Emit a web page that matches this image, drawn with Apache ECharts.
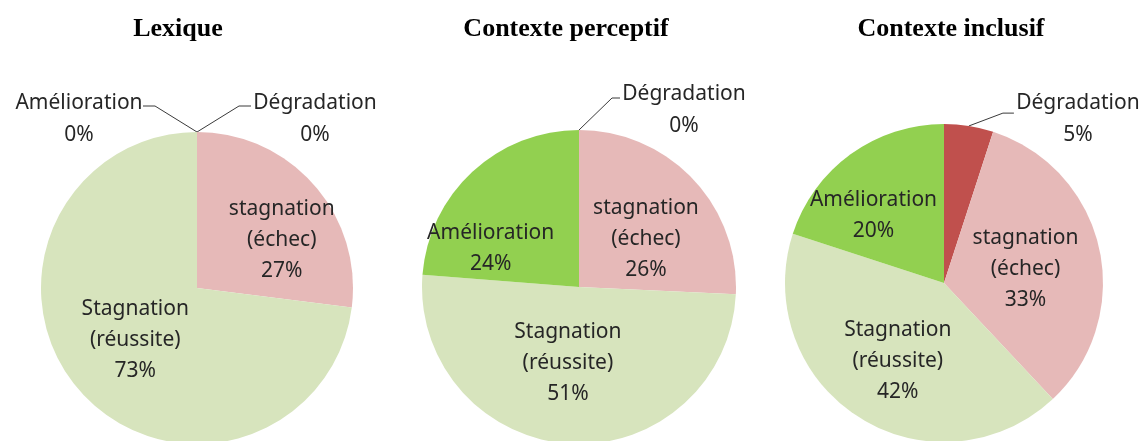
<!DOCTYPE html>
<html><head><meta charset="utf-8">
<script src="https://cdn.jsdelivr.net/npm/echarts@6/dist/echarts.min.js"></script>
<style>html,body{margin:0;padding:0;background:#fff}#c{width:1148px;height:441px}</style>
</head><body><div id="c"></div>
<script>
// ---- data ----
const titles = ['Lexique', 'Contexte perceptif', 'Contexte inclusif'];
const categories = ['Dégradation', 'stagnation\n(échec)', 'Stagnation\n(réussite)', 'Amélioration'];
const lexique = [0, 27, 73, 0];
const perceptif = [0, 26, 51, 24];
const inclusif = [5, 33, 42, 20];

// ---- styles / layout ----
const colors = ['#C0504D', '#E6B9B8', '#D7E4BD', '#92D050'];
const FONT = '"Noto Sans", "Open Sans", sans-serif';
// which side each small (outside) label belongs to: +1 right, -1 left
const outsideSide = [1, 0, 0, -1];
const pieLayout = [
  { center: [197, 288], r: 156, len: 26, len2: 54, kink: 12, padTop: 26, titleX: 178,
    nudge: [[0, 0], [24, 6], [-1, -2], [0, 0]] },
  { center: [579, 287], r: 157, len: 32, len2: 41, kink: 8, padTop: 24, titleX: 566,
    nudge: [[0, 0], [8, 8], [-6, -5], [-33, 21]] },
  { center: [944, 283], r: 159, len: 13, len2: 43, kink: 11, padTop: 12, titleX: 951,
    nudge: [[0, 0], [1, 4], [-2, 8], [-22, -1]] }
];
const seriesValues = [lexique, perceptif, inclusif];

function isOutside(v) { return v < 10; }

function makeLabelLayout(si) {
  const L = pieLayout[si];
  const cx = L.center[0];
  return function (p) {
    const vals = seriesValues[si];
    if (!isOutside(vals[p.dataIndex])) return {};
    let pts = p.labelLinePoints;
    if (!pts || pts.length < 3) return {};
    pts = pts.map(q => q.slice());
    const rect = p.labelRect;
    const res = {};
    const curSide = (rect.x + rect.width / 2) > cx ? 1 : -1;
    const want = outsideSide[p.dataIndex];
    if (curSide !== want) {
      // mirror label and its line across the pie's vertical axis
      pts = pts.map(q => [2 * cx - q[0], q[1]]);
      res.x = 2 * cx - (rect.x + rect.width);
      res.align = 'left';
    }
    const dir = pts[2][0] > pts[1][0] ? 1 : -1;
    res.labelLinePoints = [pts[0], [pts[2][0] - dir * L.kink, pts[1][1]], pts[2]];
    return res;
  };
}

const series = seriesValues.map((vals, si) => {
  const L = pieLayout[si];
  return {
    type: 'pie',
    center: L.center,
    radius: L.r,
    startAngle: 90,
    clockwise: true,
    avoidLabelOverlap: false,
    animation: false,
    silent: true,
    itemStyle: { borderWidth: 0 },
    labelLine: { show: true, length: L.len, length2: L.len2, lineStyle: { color: '#3a3a3a', width: 1 } },
    labelLayout: makeLabelLayout(si),
    data: vals.map((v, i) => {
      const out = isOutside(v);
      return {
        name: categories[i],
        value: v,
        itemStyle: { color: colors[i] },
        label: out ? {
          position: 'outside',
          distanceToLabelLine: 0,
          padding: [L.padTop, 0, 0, 0],
          formatter: p => '{o|' + p.name + '}\n{o|' + p.value + '%}',
          rich: { o: { width: 128, align: 'center', fontSize: 21, lineHeight: 32, fontFamily: FONT, color: '#262626' } }
        } : {
          position: 'inside',
          offset: L.nudge[i],
          formatter: p => p.name + '\n' + p.value + '%',
          fontSize: 21, lineHeight: 31, fontFamily: FONT, color: '#262626', align: 'center'
        },
        labelLine: { show: out }
      };
    })
  };
});

const chart = echarts.init(document.getElementById('c'), null, { renderer: 'canvas' });
chart.setOption({
  backgroundColor: '#fff',
  animation: false,
  title: titles.map((t, i) => ({
    text: t, left: pieLayout[i].titleX, top: 16, textAlign: 'center', padding: 0,
    textStyle: { fontFamily: '"Liberation Serif", "Times New Roman", serif', fontWeight: 'bold', fontSize: 26, color: '#000' }
  })),
  series: series
});
</script></body></html>
